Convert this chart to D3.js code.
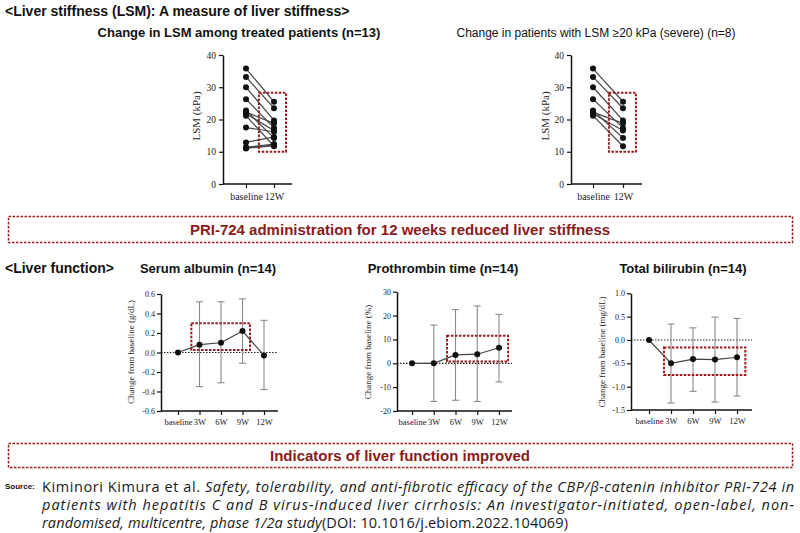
<!DOCTYPE html>
<html>
<head>
<meta charset="utf-8">
<script src="https://cdn.jsdelivr.net/npm/d3@7"></script>
<style>
  body { margin: 0; background: #fff; }
  svg { display: block; }
</style>
</head>
<body>
<svg id="fig" width="800" height="533"></svg>
<script>
// ---- LSM (kPa), one entry per patient: baseline -> 12W
const lsmGroups = ["baseline", "12W"];
const lsmTicks = [0, 10, 20, 30, 40];
const lsmAllBase = [35.8, 33.2, 30.0, 26.3, 22.8, 22.3, 21.8, 21.2, 17.5, 12.9, 11.4, 11.0, 11.2];
const lsmAll12W  = [25.5, 23.5, 19.7, 17.4, 14.3, 18.8, 16.6, 11.7, 16.2, 14.6, 12.4, 11.9, 12.1];
const lsmSevBase = [35.8, 33.2, 30.0, 26.3, 22.8, 22.3, 21.8, 21.2];
const lsmSev12W  = [25.5, 23.5, 19.7, 17.4, 14.3, 18.8, 16.6, 11.7];

// ---- liver function, change from baseline (mean, upper and lower bar ends)
const visits = ["baseline", "3W", "6W", "9W", "12W"];
const albMean  = [0, 0.08, 0.10, 0.22, -0.03];
const albUpper = [0, 0.52, 0.52, 0.55, 0.33];
const albLower = [0, -0.35, -0.31, -0.11, -0.38];
const albTicks = [-0.6, -0.4, -0.2, 0, 0.2, 0.4, 0.6];

const ptMean  = [0, 0, 3.5, 3.8, 6.5];
const ptUpper = [0, 16, 22.5, 24, 20.5];
const ptLower = [0, -16, -15.5, -16, -7.8];
const ptTicks = [-20, -10, 0, 10, 20, 30];

const tbMean  = [0, -0.50, -0.41, -0.42, -0.37];
const tbUpper = [0, 0.34, 0.26, 0.49, 0.46];
const tbLower = [0, -1.35, -1.10, -1.33, -1.20];
const tbTicks = [-1.5, -1.0, -0.5, 0, 0.5, 1.0];

const svg = d3.select("#fig");
const RED = "#9b1b1b";
const SANS = "'Liberation Sans', Arial, sans-serif";
const SERIF = "'Liberation Serif', 'Times New Roman', serif";

function styleAxis(sel, size) {
  sel.select(".domain").attr("stroke", "#111").attr("stroke-width", 1.5);
  sel.selectAll(".tick line").attr("stroke", "#111").attr("stroke-width", 1.2);
  sel.selectAll(".tick text").attr("fill", "#222")
    .style("font-family", SERIF).style("font-size", size + "px");
}

function highlight(g, x0, x1, yTop, yBot) {
  g.append("rect")
    .attr("x", x0).attr("y", yTop)
    .attr("width", x1 - x0).attr("height", yBot - yTop)
    .attr("fill", "none").attr("stroke", RED)
    .attr("stroke-width", 2).attr("stroke-dasharray", "2.5,1.5");
}

function yLabel(g, x, y, txt, size) {
  g.append("text")
    .attr("transform", `translate(${x},${y}) rotate(-90)`)
    .attr("text-anchor", "middle")
    .style("font-family", SERIF).style("font-size", size + "px").attr("fill", "#222")
    .text(txt);
}

function lsmChart(o) {
  const g = svg.append("g");
  const x = d3.scalePoint().domain(lsmGroups).range([o.x0, o.x1]);
  const y = d3.scaleLinear().domain([0, 40]).range([184, 55]);

  g.append("g").attr("transform", `translate(${o.axisX},0)`)
    .call(d3.axisLeft(y).tickValues(lsmTicks).tickSize(4).tickSizeOuter(0).tickPadding(3))
    .call(styleAxis, 9.5);

  const xa = g.append("g").attr("transform", "translate(0,184)")
    .call(d3.axisBottom(x).tickSize(4).tickSizeOuter(0).tickPadding(5))
    .call(styleAxis, 10);
  xa.select(".domain").remove();
  g.append("line").attr("x1", o.axisX).attr("x2", o.axisEnd)
    .attr("y1", 184).attr("y2", 184).attr("stroke", "#111").attr("stroke-width", 1.5);

  yLabel(g, o.labelX, 116, "LSM (kPa)", 11);

  o.base.forEach((b, i) => {
    g.append("line")
      .attr("x1", x("baseline")).attr("y1", y(b))
      .attr("x2", x("12W")).attr("y2", y(o.after[i]))
      .attr("stroke", "#444").attr("stroke-width", 1.2);
  });
  g.selectAll(".pb").data(o.base).join("circle")
    .attr("cx", x("baseline")).attr("cy", d => y(d)).attr("r", 3).attr("fill", "#111");
  g.selectAll(".pa").data(o.after).join("circle")
    .attr("cx", x("12W")).attr("cy", d => y(d)).attr("r", 3).attr("fill", "#111");

  const st = x.step();
  highlight(g, o.x0 + o.box[0] * st, o.x0 + o.box[1] * st, y(28.3), y(10));
}

function changeChart(o) {
  const g = svg.append("g");
  const x = d3.scalePoint().domain(visits).range([o.x0, o.x1]);
  const y = d3.scaleLinear().domain(o.domain).range([o.yBot, o.yTop]);

  g.append("g").attr("transform", `translate(${o.axisX},0)`)
    .call(d3.axisLeft(y).tickValues(o.ticks).tickFormat(o.fmt).tickSize(4).tickSizeOuter(0).tickPadding(2))
    .call(styleAxis, 8);

  const xa = g.append("g").attr("transform", `translate(0,${o.yBot})`)
    .call(d3.axisBottom(x).tickSize(4).tickSizeOuter(0).tickPadding(4))
    .call(styleAxis, 8.5);
  xa.select(".domain").remove();
  g.append("line").attr("x1", o.axisX).attr("x2", o.axisEnd)
    .attr("y1", o.yBot).attr("y2", o.yBot).attr("stroke", "#111").attr("stroke-width", 1.5);

  // dotted zero line
  g.append("line").attr("x1", o.axisX).attr("x2", o.axisEnd)
    .attr("y1", y(0)).attr("y2", y(0))
    .attr("stroke", "#222").attr("stroke-width", 1.2).attr("stroke-dasharray", "1.5,1.5");

  yLabel(g, o.labelX, 352, o.label, 9);

  // error bars
  visits.forEach((v, i) => {
    if (o.upper[i] === o.lower[i]) return;
    const cx = x(v);
    g.append("line").attr("x1", cx).attr("x2", cx)
      .attr("y1", y(o.upper[i])).attr("y2", y(o.lower[i]))
      .attr("stroke", "#8a8a8a").attr("stroke-width", 1.1);
    [o.upper[i], o.lower[i]].forEach(e => {
      g.append("line").attr("x1", cx - 3.5).attr("x2", cx + 3.5)
        .attr("y1", y(e)).attr("y2", y(e))
        .attr("stroke", "#8a8a8a").attr("stroke-width", 1.1);
    });
  });

  const line = d3.line().x((d, i) => x(visits[i])).y(d => y(d));
  g.append("path").datum(o.mean).attr("d", line)
    .attr("fill", "none").attr("stroke", "#444").attr("stroke-width", 1.2);
  g.selectAll(".pt").data(o.mean).join("circle")
    .attr("cx", (d, i) => x(visits[i])).attr("cy", d => y(d))
    .attr("r", 3).attr("fill", "#111");

  const st = x.step();
  highlight(g, o.x0 + o.box[0] * st, o.x0 + o.box[1] * st, y(o.box[3]), y(o.box[2]));
}

// ---- headings
function txt(x, y, s, size, weight, anchor, color) {
  return svg.append("text").attr("x", x).attr("y", y)
    .attr("text-anchor", anchor || "start")
    .style("font-family", SANS).style("font-size", size + "px")
    .style("font-weight", weight || "normal")
    .attr("fill", color || "#111").text(s);
}

txt(5, 16, "<Liver stiffness (LSM): A measure of liver stiffness>", 14, "bold");
txt(239, 37, "Change in LSM among treated patients (n=13)", 13, "bold", "middle");
txt(596, 37, "Change in patients with LSM \u226520 kPa (severe) (n=8)", 12, "normal", "middle");

lsmChart({ axisX: 223, axisEnd: 292, x0: 246, x1: 274, labelX: 200,
  base: lsmAllBase, after: lsmAll12W, box: [0.46, 1.43] });
lsmChart({ axisX: 571, axisEnd: 642, x0: 593, x1: 623, labelX: 549,
  base: lsmSevBase, after: lsmSev12W, box: [0.53, 1.43] });

// banner 1
svg.append("rect").attr("x", 8.5).attr("y", 216.5).attr("width", 784).attr("height", 26)
  .attr("fill", "none").attr("stroke", RED).attr("stroke-width", 1.5).attr("stroke-dasharray", "2.5,1.5");
txt(400, 235, "PRI-724 administration for 12 weeks reduced liver stiffness", 15, "bold", "middle", "#8b1a1a");

txt(5, 273, "<Liver function>", 14, "bold");
txt(208, 273, "Serum albumin (n=14)", 13, "bold", "middle");
txt(443, 273, "Prothrombin time (n=14)", 13, "bold", "middle");
txt(683, 273, "Total bilirubin (n=14)", 13, "bold", "middle");

const f1 = d => d.toFixed(1);
changeChart({ axisX: 161, axisEnd: 278, x0: 178, x1: 264, yTop: 294, yBot: 411,
  domain: [-0.6, 0.6], ticks: albTicks, fmt: f1, labelX: 134,
  label: "Change from baseline (g/dL)", mean: albMean, upper: albUpper, lower: albLower,
  box: [0.62, 3.35, 0.025, 0.3] });
changeChart({ axisX: 397, axisEnd: 512, x0: 412, x1: 499, yTop: 291.7, yBot: 411,
  domain: [-20, 30], ticks: ptTicks, fmt: d => String(d), labelX: 371,
  label: "Change from baseline (%)", mean: ptMean, upper: ptUpper, lower: ptLower,
  box: [1.61, 4.42, 0.7, 11.5] });
changeChart({ axisX: 631, axisEnd: 752, x0: 649, x1: 737, yTop: 293.3, yBot: 410,
  domain: [-1.5, 1.0], ticks: tbTicks, fmt: f1, labelX: 605,
  label: "Change from baseline (mg/dL)", mean: tbMean, upper: tbUpper, lower: tbLower,
  box: [0.68, 4.38, -0.75, -0.16] });

// banner 2
svg.append("rect").attr("x", 8.5).attr("y", 443.5).attr("width", 784).attr("height", 24)
  .attr("fill", "none").attr("stroke", RED).attr("stroke-width", 1.5).attr("stroke-dasharray", "2.5,1.5");
txt(400, 461, "Indicators of liver function improved", 15, "bold", "middle", "#8b1a1a");

// source
txt(5, 489, "Source:", 8, "bold");
const CIT = "'Open Sans', 'Noto Sans', sans-serif";
function citLine(y, parts, len) {
  const t = svg.append("text").attr("x", 42).attr("y", y)
    .style("font-family", CIT).style("font-size", "14.5px").attr("fill", "#1a1a1a")
    .attr("textLength", len).attr("lengthAdjust", "spacing");
  parts.forEach(p => t.append("tspan").style("font-style", p[1] ? "italic" : "normal").text(p[0]));
}
citLine(492, [["Kiminori Kimura et al. ", false],
  ["Safety, tolerability, and anti-fibrotic efficacy of the CBP/\u03b2-catenin inhibitor PRI-724 in", true]], 752);
citLine(510, [["patients with hepatitis C and B virus-induced liver cirrhosis: An investigator-initiated, open-label, non-", true]], 752);
citLine(528, [["randomised, multicentre, phase 1/2a study", true], ["(DOI: 10.1016/j.ebiom.2022.104069)", false]], 526);
</script>
</body>
</html>
